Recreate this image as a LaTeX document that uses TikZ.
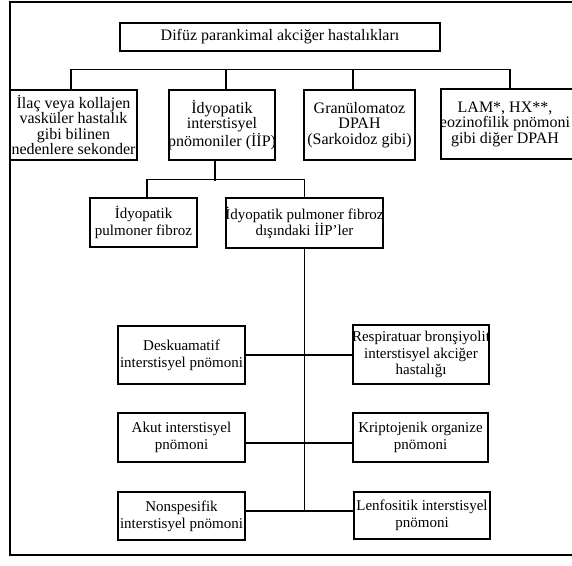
\documentclass[tikz,border=0pt]{standalone}
\usepackage{fontspec}
\setmainfont{Liberation Serif}
\begin{document}
\begin{tikzpicture}[x=1pt,y=-1pt,
  boxs/.style={draw, line width=1.5pt, inner sep=0pt, align=center},
  big/.style={font=\fontsize{16}{15.5}\selectfont},
  small/.style={font=\fontsize{15}{16.7}\selectfont},
  conn/.style={line width=1.5pt},
]
\useasboundingbox (0,0) rectangle (572,565);
% outer frame
\draw[line width=1.3pt] (10,2) rectangle (576,555);

\node[boxs,big,minimum width=320pt,minimum height=28pt] (top) at (280,37) {Difüz parankimal akciğer hastalıkları};

\node[boxs,big,minimum width=127pt,minimum height=70pt] (b1) at (73.5,125)
  {İlaç veya kollajen\\vasküler hastalık\\gibi bilinen\\nedenlere sekonder};
\node[boxs,big,minimum width=106pt,minimum height=70pt] (b2) at (222,125)
  {İdyopatik\\interstisyel\\\makebox[100pt]{pnömoniler (İİP)}};
\node[boxs,big,minimum width=111pt,minimum height=70pt] (b3) at (359.5,125)
  {Granülomatoz\\DPAH\\(Sarkoidoz gibi)};
\node[boxs,minimum width=138pt,minimum height=70pt,
  label={[big,align=center,inner sep=0pt,xshift=-5pt]center:{LAM*, HX**,\\eozinofilik pnömoni\\gibi diğer DPAH}}] (b4) at (510,124) {};

\node[boxs,small,minimum width=107pt,minimum height=49pt] (ipf) at (143.5,222.5)
  {İdyopatik\\pulmoner fibroz};
\node[boxs,small,minimum width=157pt,minimum height=50pt] (nipf) at (304.5,223)
  {\makebox[150pt]{İdyopatik pulmoner fibroz}\\dışındaki İİP’ler};

\node[boxs,small,minimum width=127pt,minimum height=58pt] (desk) at (181.5,355)
  {Deskuamatif\\interstisyel pnömoni};
\node[boxs,small,minimum width=136pt,minimum height=59pt] (resp) at (421,354.5)
  {\makebox[130pt]{Respiratuar bronşiyolit}\\interstisyel akciğer\\hastalığı};
\node[boxs,small,minimum width=127pt,minimum height=49pt] (akut) at (181.5,437.5)
  {Akut interstisyel\\pnömoni};
\node[boxs,small,minimum width=135pt,minimum height=49pt] (kripto) at (420.5,437.5)
  {Kriptojenik organize\\pnömoni};
\node[boxs,small,minimum width=127pt,minimum height=48pt] (nons) at (181.5,516)
  {Nonspesifik\\interstisyel pnömoni};
\node[boxs,small,minimum width=136pt,minimum height=47pt] (lenfo) at (422,515.5)
  {Lenfositik interstisyel\\pnömoni};

% first level bus
\draw[conn] ([xshift=-2.5pt]b1.north) -- ++(0,-20) -| (b4.north);
\draw[conn] ([xshift=4pt]b2.north) -- ++(0,-20);
\draw[conn] ([xshift=-6.5pt]b3.north) -- ++(0,-20);

% second level
\draw[conn] ([xshift=-7pt]b2.south) -- ++(0,20);
\draw[conn] ([xshift=3.5pt]ipf.north) -- ++(0,-18) -| (nipf.north);

% trunk
\path ([yshift=5pt]nons.east) coordinate (ne);
\draw[conn] (nipf.south) -- (nipf.south |- ne);
\draw[conn] (desk.east) -- (desk.east -| resp.west);
\draw[conn] ([yshift=-5.5pt]akut.east) -- ([yshift=-5.5pt]akut.east -| kripto.west);
\draw[conn] (ne) -- (ne -| lenfo.west);
\end{tikzpicture}
\end{document}
